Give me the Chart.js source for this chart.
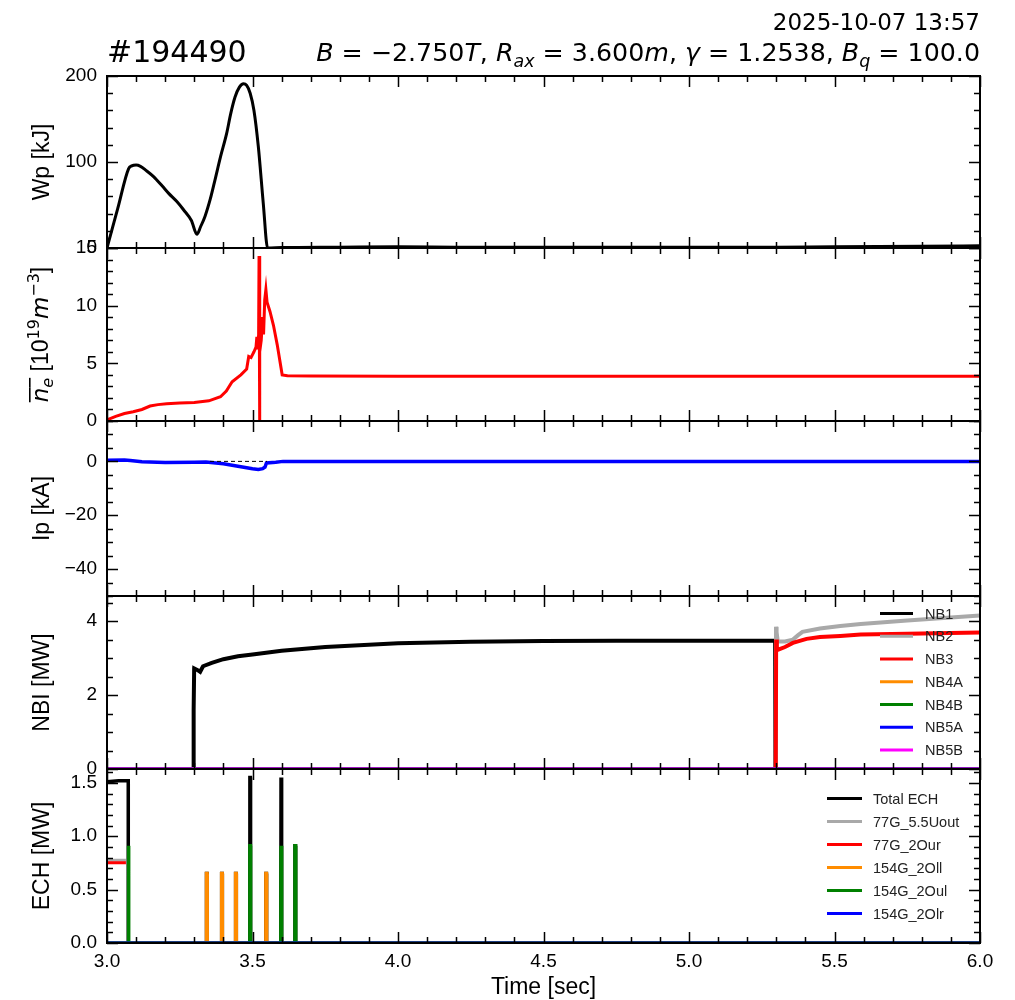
<!DOCTYPE html>
<html><head><meta charset="utf-8">
<script src="https://cdn.jsdelivr.net/npm/chart.js@4.4.1/dist/chart.umd.min.js"></script>
<style>
html,body{margin:0;padding:0;background:#fff;}
#wrap{position:relative;width:1015px;height:1000px;background:#fff;}
canvas{position:absolute;left:0;top:0;}
</style></head><body><div id="wrap">
<canvas id="c1" width="1015" height="1000"></canvas>
<canvas id="c2" width="1015" height="1000"></canvas>
<canvas id="c3" width="1015" height="1000"></canvas>
<canvas id="c4" width="1015" height="1000"></canvas>
<canvas id="c5" width="1015" height="1000"></canvas>
</div>
<script>
// ---------------- DATA ----------------
const shotLabel = '#194490';
const dateLabel = '2025-10-07 13:57';

const xTickValues = [3.0, 3.5, 4.0, 4.5, 5.0, 5.5, 6.0];
const xTickLabels = ['3.0', '3.5', '4.0', '4.5', '5.0', '5.5', '6.0'];

// Panel 1: Wp [kJ]
const wpTicks = [0, 100, 200];
const wpTickLabels = ['0', '100', '200'];
const wpTime  = [3.0, 3.037, 3.074, 3.085, 3.1, 3.115, 3.135, 3.16, 3.19, 3.212, 3.24, 3.263, 3.29, 3.309, 3.322, 3.337, 3.355, 3.371, 3.39, 3.411, 3.425, 3.44, 3.455, 3.469, 3.48, 3.492, 3.505, 3.52, 3.537, 3.552, 3.6, 3.8, 4.0, 4.2, 4.5, 5.0, 5.3, 5.5, 5.8, 6.0];
const wpValue = [0, 46, 92, 95.5, 96.5, 95, 90, 83, 72, 63.5, 54, 44.5, 32, 16, 25, 37, 57, 79, 106, 133, 156, 175.5, 187, 191, 189, 180, 160, 118, 52, 0, 0.5, 1, 1.5, 1, 0.8, 0.8, 1, 1.5, 2, 2.5];

// Panel 2: line-averaged density
const neTicks = [0, 5, 10, 15];
const neTickLabels = ['0', '5', '10', '15'];
const neTime  = [3.0, 3.03, 3.06, 3.09, 3.12, 3.148, 3.175, 3.205, 3.25, 3.3, 3.35, 3.39, 3.41, 3.43, 3.46, 3.48, 3.487, 3.495, 3.505, 3.512, 3.515, 3.518, 3.521, 3.5225, 3.524, 3.5255, 3.53, 3.535, 3.538, 3.542, 3.546, 3.55, 3.56, 3.572, 3.585, 3.602, 3.62, 3.7, 4.0, 5.0, 6.0];
const neValue = [0.1, 0.4, 0.65, 0.8, 1.0, 1.3, 1.42, 1.5, 1.55, 1.6, 1.75, 2.1, 2.6, 3.4, 4.0, 4.5, 5.6, 5.5, 6.0, 6.4, 7.3, 6.2, 7.5, 14.3, 0, 6.0, 7.0, 9.0, 7.5, 10.5, 11.4, 10.3, 9.5, 8.3, 6.6, 4.0, 3.92, 3.9, 3.88, 3.87, 3.87];

// Panel 3: Ip [kA]
const ipTicks = [-40, -20, 0];
const ipTickLabels = ['\u221240', '\u221220', '0'];
const ipTime  = [3.0, 3.06, 3.08, 3.12, 3.2, 3.3, 3.34, 3.4, 3.45, 3.5, 3.52, 3.535, 3.543, 3.548, 3.58, 3.605, 4.0, 6.0];
const ipValue = [0.4, 0.5, 0.3, -0.1, -0.4, -0.3, -0.2, -0.9, -1.8, -2.7, -3.0, -2.7, -2.1, -0.6, -0.3, 0.0, 0.0, 0.0];
const ipRefTime  = [3.354, 3.55];
const ipRefValue = [0, 0];

// Panel 4: NBI [MW]
const nbiTicks = [0, 2, 4];
const nbiTickLabels = ['0', '2', '4'];
const nbiLabels = ['NB1', 'NB2', 'NB3', 'NB4A', 'NB4B', 'NB5A', 'NB5B'];
const nb1Time  = [3.0, 3.296, 3.297, 3.2985, 3.2995, 3.3, 3.31, 3.32, 3.33, 3.36, 3.4, 3.45, 3.5, 3.6, 3.75, 4.0, 4.25, 4.5, 4.75, 5.0, 5.296, 5.297, 6.0];
const nb1Value = [0, 0, 1.45, 1.6, 2.7, 2.72, 2.68, 2.63, 2.78, 2.87, 2.97, 3.05, 3.1, 3.2, 3.3, 3.4, 3.44, 3.46, 3.47, 3.47, 3.47, 0, 0];
const nb2Time  = [3.0, 5.298, 5.299, 5.301, 5.305, 5.33, 5.357, 5.375, 5.39, 5.45, 5.52, 5.59, 5.75, 5.9, 6.0];
const nb2Value = [0, 0, 3.85, 3.7, 3.45, 3.45, 3.5, 3.62, 3.71, 3.8, 3.87, 3.92, 4.02, 4.1, 4.15];
const nb3Time  = [3.0, 5.298, 5.2995, 5.302, 5.304, 5.33, 5.357, 5.404, 5.45, 5.52, 5.59, 5.75, 6.0];
const nb3Value = [0, 0, 3.5, 3.3, 3.22, 3.3, 3.41, 3.52, 3.57, 3.6, 3.64, 3.66, 3.69];
const nb4aTime = [3.0, 6.0], nb4aValue = [0, 0];
const nb4bTime = [3.0, 6.0], nb4bValue = [0, 0];
const nb5aTime = [3.0, 6.0], nb5aValue = [0, 0];
const nb5bTime = [3.0, 6.0], nb5bValue = [0, 0];

// Panel 5: ECH [MW]
const echTicks = [0, 0.5, 1.0, 1.5];
const echTickLabels = ['0.0', '0.5', '1.0', '1.5'];
const echLabels = ['Total ECH', '77G_5.5Uout', '77G_2Our', '154G_2Oll', '154G_2Oul', '154G_2Olr'];
const echTotalStepTime  = [3.0, 3.04, 3.073];
const echTotalStepValue = [1.51, 1.52, 1.52];
const echTotalPulseTime  = [3.342, 3.394, 3.442, 3.491, 3.546, 3.598, 3.646];
const echTotalPulseValue = [0.65, 0.65, 0.65, 1.55, 0.65, 1.55, 0.91];
const g77UoutTime  = [3.0, 3.065, null, 3.066, 6.0];
const g77UoutValue = [0.775, 0.775, null, 0, 0];
const g77OurTime   = [3.0, 3.065, null, 3.066, 6.0];
const g77OurValue  = [0.752, 0.752, null, 0, 0];
const g154OllPulseTime  = [3.342, 3.394, 3.442, 3.546];
const g154OllPulseValue = [0.65, 0.65, 0.65, 0.65];
const g154OulPulseTime  = [3.073, 3.491, 3.598, 3.646];
const g154OulPulseValue = [0.91, 0.91, 0.91, 0.91];
const g154OlrTime = [3.0, 6.0], g154OlrValue = [0, 0];

// ---------------- HELPERS ----------------
function pts(t, v) { return t.map((x, i) => (x === null ? {x: NaN, y: null} : {x: x, y: v[i]})); }
function pulses(t, v, start) {
  const out = start ? start.slice() : [{x: 3.0, y: 0}];
  t.forEach((x, i) => { out.push({x: x - 0.0006, y: 0}, {x: x, y: v[i]}, {x: x + 0.0018, y: v[i]}, {x: x + 0.0024, y: 0}); });
  out.push({x: 6.0, y: 0});
  return out;
}

const LEFT = 107, RIGHT = 980, W = 1015, H = 1000;
const PANELS = [{top: 76, bottom: 248}, {top: 248, bottom: 421}, {top: 421, bottom: 596}, {top: 596, bottom: 769}, {top: 769, bottom: 943}];
const SANS = '"Liberation Sans", Arial, sans-serif';
const DJV = '"DejaVu Sans", sans-serif';

// ---------------- PLUGINS ----------------
const framePlugin = {
  id: 'frame',
  afterDatasetsDraw(chart, args, o) {
    const {ctx, chartArea: a, scales: {x, y}} = chart;
    ctx.save();
    ctx.strokeStyle = '#000';
    ctx.lineWidth = 1.5;
    ctx.beginPath();
    for (let k = 0; k <= 30; k++) {
      const v = 3 + k * 0.1;
      const px = Math.round(x.getPixelForValue(v)) + 0.5;
      const len = (k % 5 === 0) ? 11 : 6;
      ctx.moveTo(px, a.bottom); ctx.lineTo(px, a.bottom - len);
      ctx.moveTo(px, a.top); ctx.lineTo(px, a.top + len);
    }
    const mn = y.min, mx = y.max, st = o.minor;
    const kStart = Math.ceil(mn / st - 1e-6), kEnd = Math.floor(mx / st + 1e-6);
    for (let k = kStart; k <= kEnd; k++) {
      const v = k * st;
      const py = Math.round(y.getPixelForValue(v)) + 0.5;
      const major = o.major.some(m => Math.abs(m - v) < st / 10);
      const len = major ? 11 : 6;
      ctx.moveTo(a.left, py); ctx.lineTo(a.left + len, py);
      ctx.moveTo(a.right, py); ctx.lineTo(a.right - len, py);
    }
    ctx.stroke();
    ctx.lineWidth = 2;
    ctx.strokeRect(a.left, a.top, a.right - a.left, a.bottom - a.top);
    ctx.restore();
  }
};

function richWidth(ctx, parts) { let w = 0; for (const p of parts) { ctx.font = p.f; w += ctx.measureText(p.t).width; } return w; }
function drawRich(ctx, parts, x, y) {
  for (const p of parts) {
    ctx.font = p.f;
    ctx.fillText(p.t, x, y + (p.dy || 0));
    const w = ctx.measureText(p.t).width;
    if (p.over) { ctx.fillRect(x, y - p.over, w, 1.6); }
    x += w;
  }
}

const yLabelPlugin = {
  id: 'ylab',
  afterDraw(chart, args, o) {
    const {ctx, chartArea: a} = chart;
    ctx.save();
    ctx.fillStyle = '#000';
    ctx.textBaseline = 'alphabetic';
    ctx.textAlign = 'left';
    ctx.translate(o.cx, (a.top + a.bottom) / 2);
    ctx.rotate(-Math.PI / 2);
    const w = richWidth(ctx, o.parts);
    drawRich(ctx, o.parts, -w / 2, o.base);
    ctx.restore();
  }
};

const legendPlugin = {
  id: 'leg',
  afterDatasetsDraw(chart, args, o) {
    if (!o.items) return;
    const {ctx} = chart;
    ctx.save();
    ctx.font = '14.5px ' + SANS;
    ctx.textBaseline = 'middle';
    ctx.textAlign = 'left';
    o.items.forEach((it, i) => {
      const yy = o.y0 + i * o.dy;
      ctx.strokeStyle = it.color; ctx.lineWidth = 3; ctx.lineCap = 'butt';
      ctx.beginPath(); ctx.moveTo(o.x0, yy); ctx.lineTo(o.x1, yy); ctx.stroke();
      ctx.fillStyle = '#222';
      ctx.fillText(it.label, o.tx, yy + 1);
    });
    ctx.restore();
  }
};

const titlePlugin = {
  id: 'ttl',
  afterDraw(chart, args, o) {
    if (!o.show) return;
    const {ctx} = chart;
    ctx.save();
    ctx.fillStyle = '#000';
    ctx.textBaseline = 'alphabetic';
    ctx.textAlign = 'left';
    ctx.font = '30px ' + DJV;
    ctx.fillText(shotLabel, 107, 62);
    ctx.textAlign = 'right';
    ctx.font = '23px ' + DJV;
    ctx.fillText(dateLabel, 980, 30);
    ctx.textAlign = 'left';
    const S = 25.3, s = 17.5;
    const it = 'italic ' + S + 'px ' + DJV, rg = S + 'px ' + DJV, sb = 'italic ' + s + 'px ' + DJV;
    const parts = [
      {t: 'B', f: it}, {t: ' = ', f: rg}, {t: '\u22122.750', f: rg}, {t: 'T', f: it}, {t: ', ', f: rg},
      {t: 'R', f: it}, {t: 'ax', f: sb, dy: 6}, {t: ' = ', f: rg}, {t: '3.600', f: rg}, {t: 'm', f: it}, {t: ', ', f: rg},
      {t: '\u03b3', f: it}, {t: ' = ', f: rg}, {t: '1.2538', f: rg}, {t: ', ', f: rg},
      {t: 'B', f: it}, {t: 'q', f: sb, dy: 6}, {t: ' = ', f: rg}, {t: '100.0', f: rg}
    ];
    const w = richWidth(ctx, parts);
    drawRich(ctx, parts, 980 - w, 61);
    ctx.restore();
  }
};

Chart.register(framePlugin, yLabelPlugin, legendPlugin, titlePlugin);

function ds(label, data, color, width, extra) {
  return Object.assign({label: label, data: data, borderColor: color, backgroundColor: color, borderWidth: width, pointRadius: 0, fill: false, tension: 0, spanGaps: false}, extra || {});
}

function simpleLabel(txt) { return [{t: txt, f: '23px ' + SANS}]; }

function makeChart(id, idx, datasets, y, extra) {
  const isBottom = idx === 4;
  const n = datasets.length;
  datasets.forEach((d, i) => { if (d.order === undefined) d.order = n - i; });
  return new Chart(document.getElementById(id), {
    type: 'line',
    data: {datasets: datasets},
    options: {
      responsive: false, animation: false, events: [], parsing: true,
      layout: {padding: {left: 0, right: W - RIGHT, top: PANELS[idx].top, bottom: isBottom ? 0 : H - PANELS[idx].bottom}},
      plugins: {
        legend: {display: false}, tooltip: {enabled: false},
        frame: {major: y.ticks, minor: y.minor},
        ylab: {parts: y.label, cx: 43, base: y.base || 6},
        leg: extra.legend || {},
        ttl: {show: idx === 0}
      },
      scales: {
        x: {
          type: 'linear', min: 3, max: 6, display: isBottom,
          grid: {display: false, drawTicks: false}, border: {display: false},
          afterBuildTicks: s => { s.ticks = xTickValues.map(v => ({value: v})); },
          ticks: {callback: (v, i) => xTickLabels[i], font: {family: SANS, size: 19}, color: '#000', padding: 7, maxRotation: 0, autoSkip: false},
          title: {display: true, text: 'Time [sec]', font: {family: SANS, size: 23, lineHeight: 1}, padding: {top: 0, bottom: 1}, color: '#000'},
          afterFit: s => { s.height = isBottom ? 57 : 0; }
        },
        y: {
          type: 'linear', min: y.min, max: y.max,
          grid: {display: false, drawTicks: false}, border: {display: false},
          afterBuildTicks: s => { s.ticks = y.ticks.map(v => ({value: v})); },
          ticks: {callback: (v, i) => y.labels[i], font: {family: SANS, size: 19}, color: '#000', padding: 10, autoSkip: false},
          afterFit: s => { s.width = LEFT; }
        }
      }
    }
  });
}

// ---------------- CHARTS ----------------
makeChart('c1', 0, [
  ds('Wp', pts(wpTime, wpValue), '#000000', 3, {cubicInterpolationMode: 'monotone'})
], {min: 0, max: 200, ticks: wpTicks, labels: wpTickLabels, minor: 20, label: simpleLabel('Wp [kJ]')}, {});

const neLabel = [
  {t: 'n', f: 'italic 23px ' + DJV, over: 19},
  {t: 'e', f: 'italic 16px ' + DJV, dy: 5, over: 19},
  {t: ' [10', f: '23px ' + SANS},
  {t: '19', f: '16px ' + DJV, dy: -9},
  {t: 'm', f: 'italic 23px ' + DJV},
  {t: '\u22123', f: '16px ' + DJV, dy: -9},
  {t: ']', f: '23px ' + SANS}
];
makeChart('c2', 1, [
  ds('ne', pts(neTime, neValue), '#ff0000', 3)
], {min: 0, max: 15, ticks: neTicks, labels: neTickLabels, minor: 1, label: neLabel, base: 5}, {});

makeChart('c3', 2, [
  ds('Ip', pts(ipTime, ipValue), '#0000ff', 3.5),
  ds('Ip0', pts(ipRefTime, ipRefValue), '#000000', 1, {borderDash: [4, 3], order: 0})
], {min: -50, max: 15, ticks: ipTicks, labels: ipTickLabels, minor: 5, label: simpleLabel('Ip [kA]')}, {});

const nbiColors = ['#000000', '#a9a9a9', '#ff0000', '#ff8c00', '#008000', '#0000ff', '#ff00ff'];
const nbiData = [pts(nb1Time, nb1Value), pts(nb2Time, nb2Value), pts(nb3Time, nb3Value), pts(nb4aTime, nb4aValue), pts(nb4bTime, nb4bValue), pts(nb5aTime, nb5aValue), pts(nb5bTime, nb5bValue)];
const nbiWidths = [4, 4, 4, 3, 3, 3, 3];
makeChart('c4', 3, nbiLabels.map((l, i) => ds(l, nbiData[i], nbiColors[i], nbiWidths[i])),
  {min: 0, max: 4.68, ticks: nbiTicks, labels: nbiTickLabels, minor: 0.5, label: simpleLabel('NBI [MW]')},
  {legend: {x0: 880, x1: 913, tx: 925, y0: 613.5, dy: 22.75, items: nbiLabels.map((l, i) => ({label: l, color: nbiColors[i]}))}});

const echColors = ['#000000', '#a9a9a9', '#ff0000', '#ff8c00', '#008000', '#0000ff'];
const echWidths = [3.5, 3, 3, 3.5, 3.5, 3];
const echStart = pts(echTotalStepTime, echTotalStepValue).concat([{x: 3.0731, y: 0}]);
const echData = [
  pulses(echTotalPulseTime, echTotalPulseValue, echStart),
  pts(g77UoutTime, g77UoutValue),
  pts(g77OurTime, g77OurValue),
  pulses(g154OllPulseTime, g154OllPulseValue),
  pulses(g154OulPulseTime, g154OulPulseValue),
  pts(g154OlrTime, g154OlrValue)
];
makeChart('c5', 4, echLabels.map((l, i) => ds(l, echData[i], echColors[i], echWidths[i])),
  {min: 0, max: 1.63, ticks: echTicks, labels: echTickLabels, minor: 0.1, label: simpleLabel('ECH [MW]')},
  {legend: {x0: 827, x1: 862, tx: 873, y0: 798.5, dy: 23, items: echLabels.map((l, i) => ({label: l, color: echColors[i]}))}});
</script>
</body></html>
